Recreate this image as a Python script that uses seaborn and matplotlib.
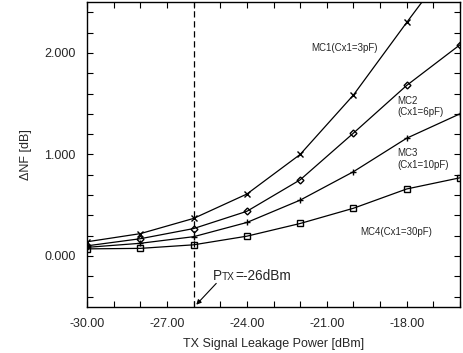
import matplotlib
matplotlib.use("Agg")
import matplotlib.pyplot as plt
import seaborn as sns
import pandas as pd
from matplotlib.ticker import MultipleLocator, FormatStrFormatter
from matplotlib.offsetbox import TextArea, HPacker, AnnotationBbox

sns.set_style("ticks")
plt.rcParams['font.family'] = ['Liberation Sans', 'DejaVu Sans']

power = [-30, -28, -26, -24, -22, -20, -18, -16]
mc1 = [0.14, 0.22, 0.37, 0.61, 1.00, 1.585, 2.30, 3.00]
mc2 = [0.10, 0.17, 0.27, 0.44, 0.75, 1.21, 1.68, 2.08]
mc3 = [0.085, 0.125, 0.19, 0.33, 0.55, 0.83, 1.16, 1.40]
mc4 = [0.07, 0.075, 0.11, 0.195, 0.32, 0.47, 0.66, 0.77]
series_names = ["MC1", "MC2", "MC3", "MC4"]
series_vals = [mc1, mc2, mc3, mc4]
markers = ["x", "D", "+", "s"]
marker_sizes = [5, 3.5, 5, 4.5]
tx_line = -26

fig = plt.figure(figsize=(4.63, 3.53), dpi=100)
ax = fig.add_axes([0.188, 0.131, 0.8055, 0.863])

for name, vals, m, ms in zip(series_names, series_vals, markers, marker_sizes):
    df = pd.DataFrame({"x": power, "y": vals})
    sns.lineplot(data=df, x="x", y="y", ax=ax, color="black", linewidth=0.9,
                 marker=m, markersize=ms, markerfacecolor="none",
                 markeredgecolor="black", markeredgewidth=1.0)

ax.axvline(tx_line, color="black", linestyle=(0, (5, 3)), linewidth=0.9)

ax.set_xlim(-30, -16)
ax.set_ylim(-0.5, 2.5)
ax.xaxis.set_major_locator(MultipleLocator(3))
ax.xaxis.set_minor_locator(MultipleLocator(1))
ax.yaxis.set_major_locator(MultipleLocator(1))
ax.yaxis.set_minor_locator(MultipleLocator(0.2))
ax.xaxis.set_major_formatter(FormatStrFormatter("%.2f"))
ax.yaxis.set_major_formatter(FormatStrFormatter("%.3f"))
ax.tick_params(which="both", direction="in", top=True, right=True, labelsize=9,
               width=0.8, color="black")
ax.tick_params(which="major", length=4, pad=8)
ax.tick_params(which="minor", length=4)
for s in ax.spines.values():
    s.set_linewidth(1.0)
    s.set_color("black")

ax.set_xlabel("TX Signal Leakage Power [dBm]", fontsize=9, labelpad=6)
ax.set_ylabel("ΔNF [dB]", fontsize=9, labelpad=9)

fs = 7
ax.text(-21.6, 2.05, "MC1(Cx1=3pF)", fontsize=fs, va="center", ha="left")
ax.text(-18.35, 1.47, "MC2\n(Cx1=6pF)", fontsize=fs, va="center", ha="left", linespacing=1.15)
ax.text(-18.35, 0.955, "MC3\n(Cx1=10pF)", fontsize=fs, va="center", ha="left", linespacing=1.15)
ax.text(-19.75, 0.24, "MC4(Cx1=30pF)", fontsize=fs, va="center", ha="left")

# P_TX annotation
tp = TextArea("P", textprops=dict(fontsize=9.8))
tt = TextArea("TX", textprops=dict(fontsize=7.3))
tr = TextArea("=-26dBm", textprops=dict(fontsize=9.8))
box = HPacker(children=[tp, tt, tr], align="baseline", pad=0, sep=0)
ab = AnnotationBbox(box, (-25.27, -0.2), xycoords="data", frameon=False,
                    box_alignment=(0, 0.5))
ax.add_artist(ab)
ax.annotate("", xy=(-25.9, -0.48), xytext=(-25.15, -0.27),
            arrowprops=dict(arrowstyle="-|>", color="black", lw=0.8,
                            mutation_scale=7, shrinkA=0, shrinkB=0))

fig.savefig("out.png", dpi=100)
